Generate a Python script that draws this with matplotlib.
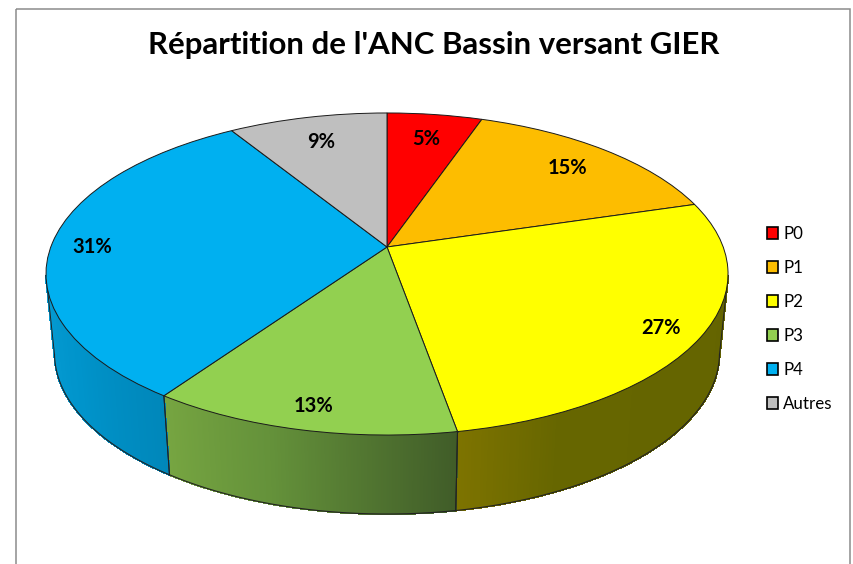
import numpy as np
import matplotlib
matplotlib.use("Agg")
import matplotlib.pyplot as plt
from matplotlib.patches import Patch, Rectangle, Polygon
from matplotlib.transforms import Transform

# --- data ---
categories = ["P0", "P1", "P2", "P3", "P4", "Autres"]
shares = [5.3, 15.1, 26.8, 12.5, 31.45, 8.85]
shown_pct = [5, 15, 27, 13, 31, 9]
title = "Répartition de l'ANC Bassin versant GIER"

# --- styles ---
top_colors = ["#FF0000", "#FDBD00", "#FFFF00", "#92D050", "#00B0F0", "#BFBFBF"]
wall_stops = {
    2: [(0.0, (125, 115, 0)), (0.22, (102, 102, 0)), (1.0, (100, 100, 0))],
    3: [(0.0, (118, 165, 65)), (0.4, (100, 145, 58)), (1.0, (64, 92, 40))],
    4: [(0.0, (5, 155, 210)), (0.5, (0, 148, 203)), (1.0, (0, 135, 186))],
}
label_pos = [(426, 139), (567, 168), (661, 328), (314, 406), (92, 247), (321, 142)]

# geometry of the projected disc, in pixels
CX, CY, R, B, K = 387.0, 247.0, 336.2, 156.5, 0.1677
DEPTH, SHRINK = 79.0, 0.975


def project(x, y):
    d = 1 + K * y
    return CX + R * x / d, CY - B * y / d


class Perspective(Transform):
    input_dims = output_dims = 2
    has_inverse = False

    def transform_non_affine(self, values):
        v = np.asarray(values, dtype=float)
        px, py = project(v[:, 0], v[:, 1])
        return np.column_stack([px, py])


def lower(px, py):
    return CX + SHRINK * (px - CX), py + DEPTH


fig = plt.figure(figsize=(8.54, 5.64), dpi=100, facecolor="white")
ax = fig.add_axes([0, 0, 1, 1])
plt.rcParams["font.family"] = ["Lato", "DejaVu Sans"]

wedges, _ = ax.pie(shares, colors=top_colors, startangle=90, counterclock=False,
                   wedgeprops=dict(edgecolor="#1a1a1a", linewidth=0.7))
persp = Perspective() + ax.transData
for w in wedges:
    w.set_transform(persp)
    w.set_zorder(3)

ax.set_aspect("auto")
ax.set_xlim(0, 854)
ax.set_ylim(564, 0)
ax.axis("off")

# side wall, drawn in thin strips so the shading can vary along the rim;
# it stops at the silhouette of the disc, where sin(angle) = -K
edges = 90 - 360 * np.concatenate([[0], np.cumsum(shares)]) / np.sum(shares)
for i, stops in wall_stops.items():
    ang = np.radians(np.linspace(edges[i], edges[i + 1], 200))
    ang = ang[np.sin(ang) <= -K]
    px, py = project(np.cos(ang), np.sin(ang))
    lx, ly = lower(px, py)
    pos = [s[0] for s in stops]
    for j in range(len(ang) - 1):
        t = j / (len(ang) - 2)
        # the shading runs left to right on screen
        t = t if px[-1] > px[0] else 1 - t
        col = [np.interp(t, pos, [s[1][c] for s in stops]) / 255 for c in range(3)]
        ax.add_patch(Polygon([(px[j], py[j]), (px[j + 1], py[j + 1]),
                              (lx[j + 1], ly[j + 1]), (lx[j], ly[j])],
                             closed=True, facecolor=col, edgecolor=col, lw=0.8,
                             antialiased=False, zorder=1))
    ax.plot(lx, ly, color="#222222", lw=0.8, zorder=2)
    ax.plot([px[0], lx[0]], [py[0], ly[0]], color="#222222", lw=0.7, zorder=2)
    ax.plot([px[-1], lx[-1]], [py[-1], ly[-1]], color="#222222", lw=0.7, zorder=2)

# chart frame
ax.add_patch(Rectangle((16.5, 9), 834, 600, fill=False, edgecolor="#8c8c8c", lw=1.1,
                       zorder=0.5, clip_on=True))

ax.text(434, 45, title, ha="center", va="center", fontsize=22.4, fontweight="bold",
        color="black", zorder=5)

for pct, (x, y) in zip(shown_pct, label_pos):
    ax.text(x, y, f"{pct}%", ha="center", va="center", fontsize=14.5, fontweight="bold",
            color="black", zorder=5)

handles = [Patch(facecolor=c, edgecolor="black", linewidth=1.2) for c in top_colors]
ax.legend(handles, categories, loc="center left",
          bbox_to_anchor=(767, 319), bbox_transform=ax.transData,
          frameon=False, fontsize=12.2, handlelength=0.65, handleheight=0.65,
          handletextpad=0.3, labelspacing=1.06, borderpad=0, borderaxespad=0)

fig.savefig("out.png", dpi=100, facecolor="white")
